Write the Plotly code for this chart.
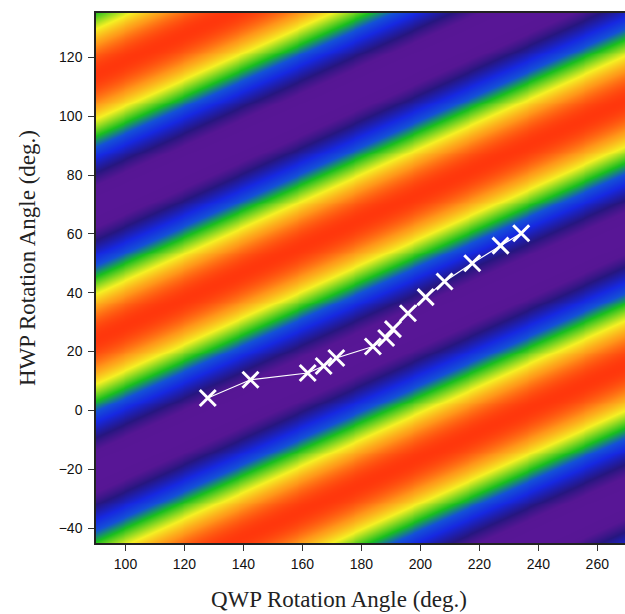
import numpy as np
import plotly.graph_objects as go

# Measured wave-plate settings (degrees)
qwp_deg = [127.9, 142.4, 161.8, 167.2, 171.5, 183.9, 188.4, 190.7, 195.8,
           201.8, 208.2, 217.6, 227.2, 234.2]
hwp_deg = [4.2, 10.4, 12.7, 15.1, 17.8, 21.7, 24.6, 27.6, 33.0,
           38.5, 43.8, 50.0, 56.0, 60.2]

# Intensity-map band parameters (degrees)
BAND_PERIOD = 90.0
BAND_SLOPE = 0.45
BAND_MIN_OFFSET = 29.0

x_ticks = [100, 120, 140, 160, 180, 200, 220, 240, 260]
y_ticks = [-40, -20, 0, 20, 40, 60, 80, 100, 120]

rainbow = [
    [0.00, "rgb(88,22,150)"],
    [0.06, "rgb(86,22,148)"],
    [0.15, "rgb(38,22,128)"],
    [0.30, "rgb(22,40,225)"],
    [0.42, "rgb(20,80,215)"],
    [0.55, "rgb(25,190,30)"],
    [0.74, "rgb(245,240,35)"],
    [0.88, "rgb(255,150,25)"],
    [1.00, "rgb(255,55,12)"],
]

q_grid = np.arange(89.0, 271.0, 1.0)
h_grid = np.arange(-46.0, 137.0, 1.0)
Q, H = np.meshgrid(q_grid, h_grid)
phase = (H - BAND_SLOPE * Q - BAND_MIN_OFFSET) / BAND_PERIOD
intensity = np.sin(np.pi * phase) ** 2

fig = go.Figure()
fig.add_trace(go.Heatmap(
    x=q_grid, y=h_grid, z=intensity,
    colorscale=rainbow, zmin=0, zmax=1,
    zsmooth="best", showscale=False, hoverinfo="skip",
))
fig.add_trace(go.Scatter(
    x=qwp_deg, y=hwp_deg, mode="lines+markers",
    line=dict(color="white", width=1.2),
    marker=dict(symbol="x-thin", size=16,
                line=dict(color="white", width=3), color="white"),
    showlegend=False,
))

fig.update_layout(
    width=625, height=614,
    margin=dict(l=96, r=0, t=13, b=71),
    paper_bgcolor="white", plot_bgcolor="white",
    font=dict(family="Liberation Sans, Arial, sans-serif", size=14, color="#111"),
)
fig.update_xaxes(
    range=[90, 269.4], tickvals=x_ticks, ticks="outside", ticklen=6,
    tickcolor="#333", showline=True, linecolor="#222", linewidth=1.5,
    mirror=True, showgrid=False, zeroline=False, ticklabelstandoff=1,
)
fig.update_yaxes(
    range=[-45.1, 135.1], tickvals=y_ticks, ticks="outside", ticklen=6,
    tickcolor="#333", showline=True, linecolor="#222", linewidth=1.5,
    showgrid=False, zeroline=False, ticklabelstandoff=3,
)

title_font = dict(family="Liberation Serif, Times New Roman, serif", size=23, color="#222")
fig.add_annotation(
    text="QWP Rotation Angle (deg.)", xref="paper", yref="paper",
    x=(338.5 - 96) / 529, y=-(600 - 543.3) / 530.6,
    xanchor="center", yanchor="middle", showarrow=False, font=title_font,
)
fig.add_annotation(
    text="HWP Rotation Angle (deg.)", xref="paper", yref="paper",
    x=-(96 - 27) / 529, y=(543.3 - 258) / 530.6, textangle=-90,
    xanchor="center", yanchor="middle", showarrow=False, font=title_font,
)

fig.write_html("out.html")
